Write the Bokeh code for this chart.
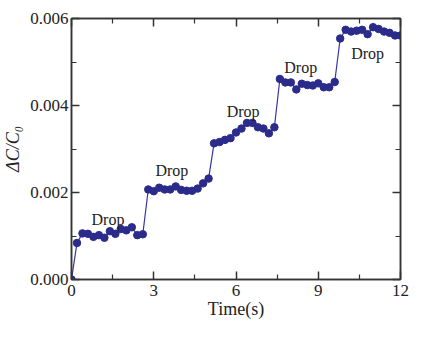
from bokeh.plotting import figure
from bokeh.models import LinearAxis, NumeralTickFormatter, Range1d, FixedTicker, ColumnDataSource
from bokeh.core.properties import value
from bokeh.embed import file_html
from bokeh.resources import INLINE

# ---- data ----
time_s = [0.0, 0.2, 0.4, 0.6, 0.8, 1.0, 1.2, 1.4, 1.6, 1.8, 2.0, 2.2, 2.4, 2.6,
          2.8, 3.0, 3.2, 3.4, 3.6, 3.8, 4.0, 4.2, 4.4, 4.6, 4.8, 5.0,
          5.2, 5.4, 5.6, 5.8, 6.0, 6.2, 6.4, 6.6, 6.8, 7.0, 7.2, 7.4,
          7.6, 7.8, 8.0, 8.2, 8.4, 8.6, 8.8, 9.0, 9.2, 9.4, 9.6,
          9.8, 10.0, 10.2, 10.4, 10.6, 10.8, 11.0, 11.2, 11.4, 11.6, 11.8, 12.0]
delta_c = [0.0, 0.00084, 0.00106, 0.00105, 0.00098, 0.00102, 0.00096, 0.00111, 0.00105,
           0.00116, 0.00113, 0.00120, 0.00102, 0.00104,
           0.00207, 0.00203, 0.00211, 0.00207, 0.00207, 0.00214, 0.00206, 0.00204,
           0.00204, 0.00209, 0.00221, 0.00232,
           0.00313, 0.00316, 0.00321, 0.00325, 0.00338, 0.00347, 0.00360, 0.00360,
           0.00350, 0.00347, 0.00336, 0.00350,
           0.00461, 0.00453, 0.00453, 0.00437, 0.00450, 0.00447, 0.00446, 0.00451,
           0.00442, 0.00442, 0.00454,
           0.00554, 0.00574, 0.00570, 0.00572, 0.00574, 0.00564, 0.00580, 0.00576,
           0.00570, 0.00567, 0.00561, 0.00561]
drop_x = [1.33, 3.66, 6.26, 8.36, 10.8]
drop_y = [0.00138, 0.00251, 0.00387, 0.00487, 0.0052]
drop_text = ["Drop", "Drop", "Drop", "Drop", "Drop"]
x_ticks = [0, 3, 6, 9, 12]
y_ticks = [0.0, 0.002, 0.004, 0.006]

FONT = "Liberation Serif"
BLUE = "#2B2B8C"
AXC = "#333333"

p = figure(width=409, height=321,
           x_range=Range1d(0, 12), y_range=Range1d(0, 0.006),
           output_backend="svg", toolbar_location=None,
           x_axis_label="Time(s)", y_axis_label="ΔC/C₀",
           min_border_left=63, min_border_right=9,
           min_border_top=18, min_border_bottom=42)
p.grid.visible = False
p.outline_line_color = AXC
p.outline_line_width = 1.5
p.background_fill_color = "white"
p.border_fill_color = "white"

src = ColumnDataSource(dict(t=time_s, c=delta_c))
p.line("t", "c", source=src, line_color="#3434A6", line_width=1.2)
p.scatter("t", "c", source=src, size=7.5, fill_color=BLUE, line_color=BLUE)

lab = ColumnDataSource(dict(x=drop_x, y=drop_y, t=drop_text))
p.text("x", "y", text="t", source=lab, text_font=value(FONT), text_font_size="16px",
       text_align="center", text_baseline="middle", text_color="#222222")

def style_axis(ax, ticks, show_labels=True):
    ax.ticker = FixedTicker(ticks=ticks, minor_ticks=[
        (ticks[i] + ticks[i + 1]) / 2 for i in range(len(ticks) - 1)])
    ax.axis_line_color = AXC
    ax.axis_line_width = 1.5
    ax.major_tick_line_color = AXC
    ax.major_tick_line_width = 1.5
    ax.minor_tick_line_color = AXC
    ax.minor_tick_line_width = 1.2
    ax.major_tick_in = 8
    ax.major_tick_out = 0
    ax.minor_tick_in = 5
    ax.minor_tick_out = 0
    ax.major_label_text_font = FONT
    ax.major_label_text_color = "#222222"
    ax.major_label_text_font_size = "17px"
    ax.major_label_standoff = 3
    if not show_labels:
        ax.major_label_text_color = None
        ax.major_label_overrides = {t: "" for t in ticks}
        ax.major_label_standoff = 0

xa = p.xaxis[0]
style_axis(xa, x_ticks)
xa.major_label_standoff = 5
xa.axis_label_text_font = FONT
xa.axis_label_text_font_size = "18px"
xa.axis_label_text_font_style = "normal"
xa.axis_label_standoff = 0
xa.axis_label_text_color = "#222222"

ya = p.yaxis[0]
style_axis(ya, y_ticks)
ya.formatter = NumeralTickFormatter(format="0.000")
ya.axis_label_text_font = FONT
ya.axis_label_text_font_size = "18px"
ya.axis_label_text_font_style = "italic"
ya.axis_label_standoff = 4
ya.axis_label_text_color = "#222222"

top = LinearAxis()
style_axis(top, x_ticks, show_labels=False)
p.add_layout(top, "above")
right = LinearAxis()
style_axis(right, y_ticks, show_labels=False)
p.add_layout(right, "right")

open("out.html", "w").write(file_html(p, INLINE))
